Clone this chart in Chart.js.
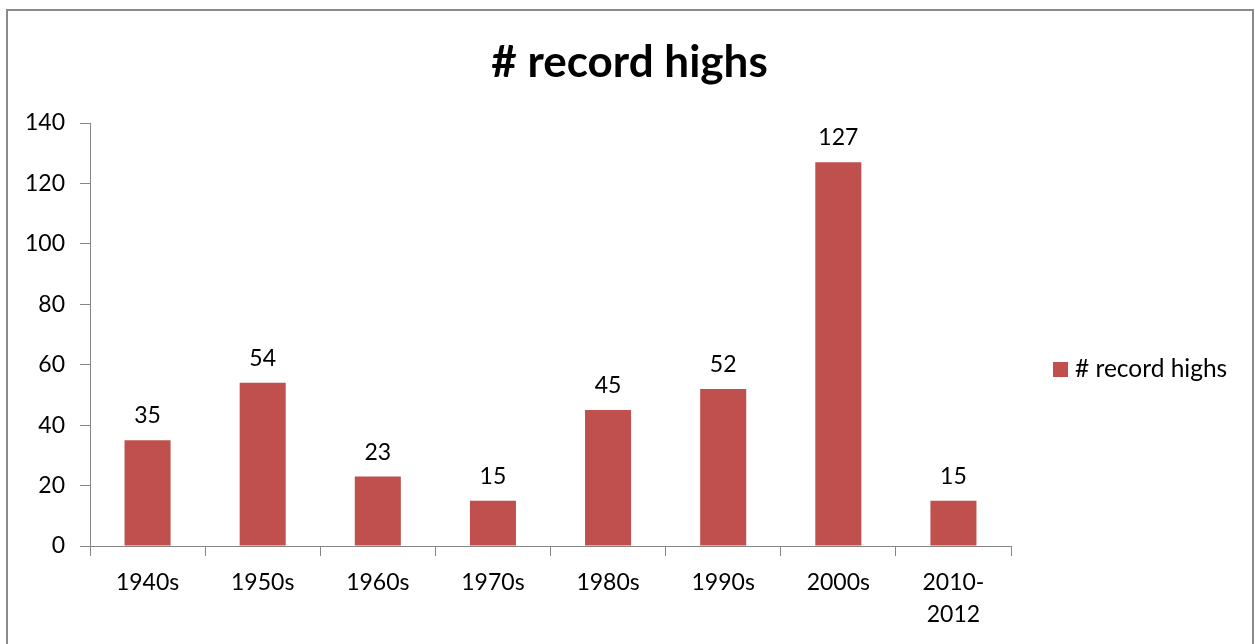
<!DOCTYPE html>
<html>
<head>
<meta charset="utf-8">
<title># record highs</title>
<script src="https://cdn.jsdelivr.net/npm/chart.js@4/dist/chart.umd.min.js"></script>
<style>
  html, body { margin: 0; padding: 0; background: #fff; overflow: hidden; }
  #wrap { position: relative; width: 1255px; height: 644px; }
</style>
</head>
<body>
<div id="wrap"><canvas id="recordChart"></canvas></div>
<script>
// data
const decades = ['1940s', '1950s', '1960s', '1970s', '1980s', '1990s', '2000s', ['2010-', '2012']];
const recordHighs = [35, 54, 23, 15, 45, 52, 127, 15];
const yMin = 0;
const yMax = 140;
const yStep = 20;
const seriesName = '# record highs';
const chartTitle = '# record highs';

const barRed = '#C0504D';
const axisGrey = '#868686';
const fontFamily = 'Lato, "Liberation Sans", Arial, sans-serif';

// frame, title, value labels and legend (Excel-style)
const excelBits = {
  id: 'excelBits',
  beforeDraw(chart) {
    const ctx = chart.ctx;
    ctx.save();
    ctx.strokeStyle = '#8a8a8a';
    ctx.lineWidth = 2;
    ctx.strokeRect(7, 10, 1246, 700);
    ctx.restore();
  },
  afterDatasetsDraw(chart) {
    const ctx = chart.ctx;
    const area = chart.chartArea;
    ctx.save();
    ctx.fillStyle = '#000';
    ctx.textBaseline = 'alphabetic';

    // values on top of the bars
    ctx.font = '23px ' + fontFamily;
    ctx.textAlign = 'center';
    chart.getDatasetMeta(0).data.forEach((bar, i) => {
      ctx.fillText(String(recordHighs[i]), bar.x, bar.y - 17);
    });

    // title
    ctx.font = 'bold 44px ' + fontFamily;
    ctx.fillText(chartTitle, chart.width / 2 + 2, 77);

    // legend
    const boxX = area.right + 42;
    ctx.fillStyle = barRed;
    ctx.fillRect(boxX, 362, 15, 15);
    ctx.fillStyle = '#000';
    ctx.textAlign = 'left';
    ctx.font = '24.5px ' + fontFamily;
    ctx.fillText(seriesName, boxX + 22, 377);
    ctx.restore();
  }
};

const ctx = document.getElementById('recordChart').getContext('2d');
new Chart(ctx, {
  type: 'bar',
  data: {
    labels: decades,
    datasets: [{
      label: seriesName,
      data: recordHighs,
      backgroundColor: barRed,
      borderWidth: 0,
      barPercentage: 0.4,
      categoryPercentage: 1
    }]
  },
  options: {
    responsive: true,
    maintainAspectRatio: false,
    animation: false,
    layout: {
      padding: { top: 123, right: 244, bottom: 0, left: 0 }
    },
    plugins: {
      legend: { display: false },
      title: { display: false },
      tooltip: { enabled: false }
    },
    scales: {
      x: {
        afterFit(scale) { scale.height = 98; },
        grid: {
          offset: true,
          drawOnChartArea: false,
          drawTicks: true,
          tickLength: 10,
          color: axisGrey
        },
        border: { display: true, color: axisGrey },
        ticks: {
          color: '#000',
          padding: 10,
          maxRotation: 0,
          autoSkip: false,
          font: { family: fontFamily, size: 23, lineHeight: 1.4 }
        }
      },
      y: {
        min: yMin,
        max: yMax,
        afterFit(scale) { scale.width = 90; },
        grid: {
          drawOnChartArea: false,
          drawTicks: true,
          tickLength: 10,
          color: axisGrey
        },
        border: { display: true, color: axisGrey },
        ticks: {
          stepSize: yStep,
          color: '#000',
          padding: 15,
          font: { family: fontFamily, size: 23 }
        }
      }
    }
  },
  plugins: [excelBits]
});
</script>
</body>
</html>
